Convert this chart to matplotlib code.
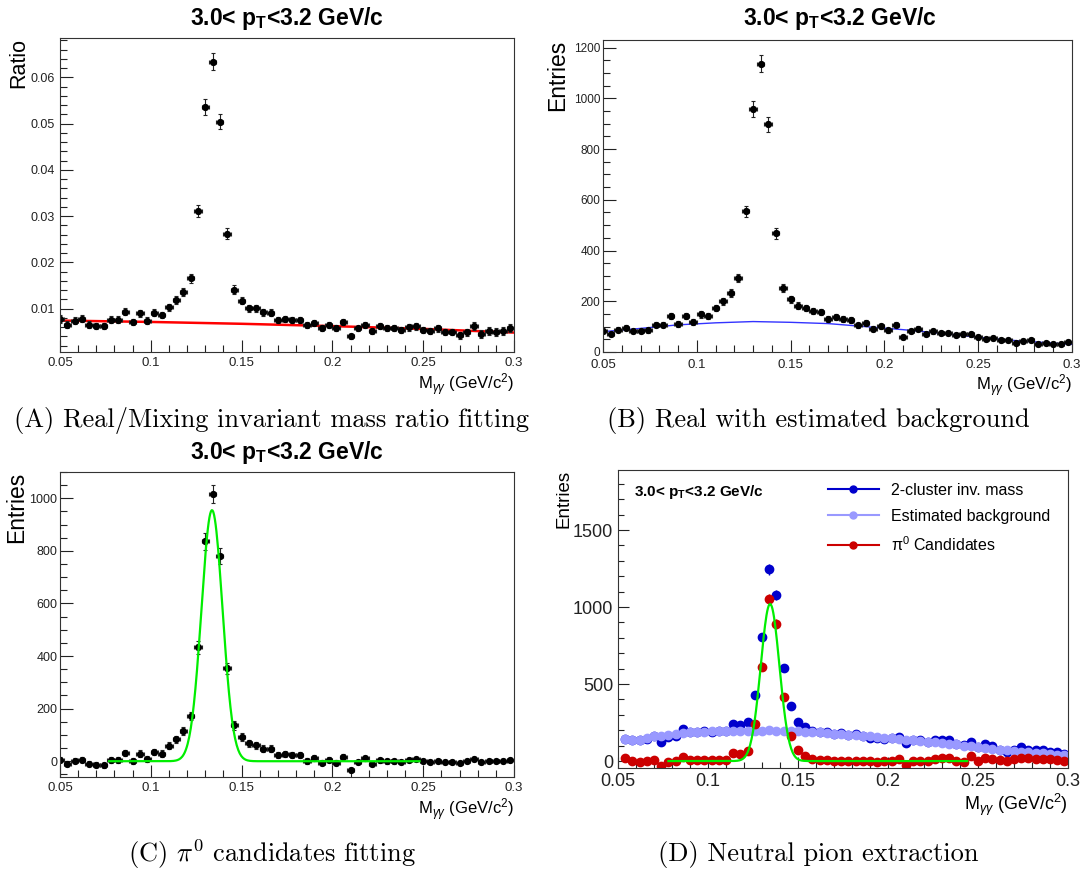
import numpy as np
import matplotlib
matplotlib.use("Agg")
import matplotlib.pyplot as plt
from matplotlib.lines import Line2D
from matplotlib.ticker import MultipleLocator, FuncFormatter

plt.rcParams['font.family'] = ['Liberation Sans', 'DejaVu Sans']
plt.rcParams['mathtext.fontset'] = 'custom'
plt.rcParams['mathtext.rm'] = 'Liberation Sans'
plt.rcParams['mathtext.it'] = 'Liberation Sans:italic'
plt.rcParams['mathtext.bf'] = 'Liberation Sans:bold'

# invariant mass bin centres (GeV/c^2)
mass = [0.050, 0.054, 0.058, 0.062, 0.066, 0.070, 0.074, 0.078, 0.082, 0.086,
        0.090, 0.094, 0.098, 0.102, 0.106, 0.110, 0.114, 0.118, 0.122, 0.126,
        0.130, 0.134, 0.138, 0.142, 0.146, 0.150, 0.154, 0.158, 0.162, 0.166,
        0.170, 0.174, 0.178, 0.182, 0.186, 0.190, 0.194, 0.198, 0.202, 0.206,
        0.210, 0.214, 0.218, 0.222, 0.226, 0.230, 0.234, 0.238, 0.242, 0.246,
        0.250, 0.254, 0.258, 0.262, 0.266, 0.270, 0.274, 0.278, 0.282, 0.286,
        0.290, 0.294, 0.298]
half_bin = 0.002

# (a) real / mixing ratio
ratio = [0.0078, 0.0065, 0.0074, 0.0078, 0.0065, 0.0062, 0.0062, 0.0076, 0.0076, 0.0093,
         0.0071, 0.0090, 0.0074, 0.0091, 0.0086, 0.0103, 0.0119, 0.0136, 0.0165, 0.0311,
         0.0535, 0.0634, 0.0504, 0.0262, 0.0141, 0.0117, 0.0101, 0.0101, 0.0092, 0.0091,
         0.0076, 0.0078, 0.0076, 0.0076, 0.0064, 0.0069, 0.0058, 0.0064, 0.0058, 0.0071,
         0.0040, 0.0057, 0.0065, 0.0051, 0.0062, 0.0058, 0.0057, 0.0054, 0.0059, 0.0062,
         0.0054, 0.0051, 0.0057, 0.0049, 0.0049, 0.0042, 0.0049, 0.0062, 0.0045, 0.0051,
         0.0049, 0.0051, 0.0058]
ratio_fit_x = [0.05, 0.10, 0.15, 0.20, 0.25, 0.30]
ratio_fit_y = [0.0074, 0.0071, 0.0067, 0.0062, 0.0056, 0.0048]

# (b) real pairs with estimated background
real = [82, 72, 88, 95, 82, 82, 85, 108, 108, 140,
        111, 142, 118, 148, 142, 174, 200, 233, 292, 554,
        957, 1137, 898, 469, 252, 207, 182, 174, 161, 157,
        131, 137, 129, 127, 105, 114, 92, 101, 85, 108,
        59, 82, 92, 72, 81, 76, 75, 68, 69, 69,
        61, 52, 56, 48, 46, 35, 43, 48, 33, 35,
        33, 33, 38]
bkg_x = [0.05, 0.07, 0.09, 0.11, 0.13, 0.15, 0.17, 0.19, 0.21, 0.23, 0.25, 0.27, 0.30]
bkg_y = [80, 93, 107, 115, 120, 117, 112, 100, 88, 74, 58, 45, 30]

# (c) pi0 candidates after subtraction
cand = [6, -9, 1, 6, -9, -13, -15, 4, 4, 32,
        1, 29, 8, 34, 29, 59, 83, 116, 172, 433,
        836, 1015, 780, 353, 136, 93, 68, 61, 48, 48,
        23, 29, 24, 24, 1, 13, -6, 6, -5, 17,
        -32, -3, 11, -9, 4, 0, 0, -3, 4, 8,
        1, -3, 1, -3, -3, -6, 0, 10, -4, 1,
        0, 1, 6]
fitC_amp, fitC_mean, fitC_sigma = 955, 0.1337, 0.0058
fitC_range = (0.077, 0.248)

# (d) neutral pion extraction (starts at second bin)
mass_d = mass[1:]
d_real = [144, 134, 134, 144, 162, 127, 155, 162, 209, 187,
          187, 198, 187, 198, 198, 241, 231, 252, 431, 806,
          1246, 1080, 603, 356, 252, 220, 198, 187, 187, 177,
          183, 170, 177, 166, 149, 149, 144, 149, 155, 119,
          134, 134, 127, 134, 134, 140, 112, 106, 123, 91,
          112, 101, 75, 62, 69, 91, 75, 75, 69, 62,
          58, 47]
d_bkg = [144, 134, 140, 149, 162, 166, 170, 175, 183, 187,
         187, 192, 194, 196, 196, 196, 196, 196, 198, 198,
         200, 198, 196, 194, 194, 192, 190, 187, 183, 179,
         177, 172, 170, 166, 162, 157, 153, 149, 144, 140,
         136, 131, 127, 123, 119, 114, 108, 101, 97, 91,
         86, 80, 75, 69, 65, 60, 58, 54, 50, 45,
         41, 41]
d_cand = [19, 0, -6, 0, 4, -32, -6, 0, 26, 9,
          9, 4, 9, 9, 4, 54, 47, 67, 241, 612,
          1050, 892, 414, 162, 69, 32, 11, 4, 9, -2,
          0, -2, -2, 0, 0, -6, -2, 0, 11, -24,
          0, 0, 0, 15, 19, 19, 0, -6, 32, -2,
          19, 15, 4, 0, 15, 19, 19, 15, 15, 15,
          4, 0]
fitD_amp, fitD_mean, fitD_sigma = 1020, 0.1345, 0.0052
fitD_range = (0.078, 0.244)

title = r'3.0< p$_{\mathbf{T}}$<3.2 GeV/c'
xlab = r'M$_{\gamma\gamma}$ (GeV/c$^{2}$)'


def gaus(x, amp, mean, sigma):
    return amp * np.exp(-0.5 * ((x - mean) / sigma) ** 2)


def root_axes(ax, ymajor, yminor, tsize=9.5):
    ax.set_xlim(0.05, 0.3)
    ax.xaxis.set_major_locator(MultipleLocator(0.05))
    ax.xaxis.set_minor_locator(MultipleLocator(0.01))
    ax.yaxis.set_major_locator(MultipleLocator(ymajor))
    ax.yaxis.set_minor_locator(MultipleLocator(yminor))
    fmt = FuncFormatter(lambda v, p: '{:g}'.format(round(v, 6)))
    ax.xaxis.set_major_formatter(fmt)
    ax.yaxis.set_major_formatter(fmt)
    ax.tick_params(which='both', direction='in', top=False, right=False,
                   labelsize=tsize, width=0.8, colors='#222222')
    ax.tick_params(which='major', length=9)
    ax.tick_params(which='minor', length=5)
    for s in ax.spines.values():
        s.set_linewidth(0.8)
        s.set_color('#333333')


fig = plt.figure(figsize=(10.88, 8.73), dpi=100)
W, H = 1088.0, 873.0


def add_ax(x0, x1, y0, y1):
    return fig.add_axes([x0 / W, 1 - y1 / H, (x1 - x0) / W, (y1 - y0) / H])


err_kw = dict(fmt='o', color='black', markersize=4.2, elinewidth=0.8,
              capsize=1.5, capthick=0.8, ecolor='#222222')

real_err = np.sqrt(np.array(real, dtype=float))

# ---- (a)
axA = add_ax(60, 514, 38, 352)
axA.errorbar(mass, ratio, xerr=half_bin, yerr=np.array(ratio) / real_err, **err_kw)
axA.plot(ratio_fit_x, ratio_fit_y, color='#ff0000', lw=1.8, zorder=1)
axA.set_ylim(0.0006, 0.0685)
root_axes(axA, 0.01, 0.002)
axA.tick_params(axis='y', labelsize=9)
axA.set_ylabel('Ratio', loc='top', fontsize=15.5)
axA.yaxis.set_label_coords(-0.068, 1.0)
axA.set_xlabel(xlab, loc='right', fontsize=12, labelpad=2)
fig.text(287 / W, 1 - 18 / H, title, ha='center', va='center',
         fontsize=16.5, fontweight='bold')

# ---- (b)
axB = add_ax(603, 1072, 40, 352)
axB.errorbar(mass, real, xerr=half_bin, yerr=real_err, **err_kw)
axB.plot(bkg_x, bkg_y, color='#3333ff', lw=1.0, zorder=1)
axB.set_ylim(0, 1230)
root_axes(axB, 200, 50)
axB.tick_params(axis='y', labelsize=8.5, pad=2)
axB.tick_params(axis='x', pad=5)
axB.set_ylabel('Entries', loc='top', fontsize=16.5)
axB.yaxis.set_label_coords(-0.072, 1.0)
axB.set_xlabel(xlab, loc='right', fontsize=12, labelpad=1)
fig.text(840 / W, 1 - 18 / H, title, ha='center', va='center',
         fontsize=16.5, fontweight='bold')

# ---- (c)
axC = add_ax(60, 514, 472, 777)
axC.errorbar(mass, cand, xerr=half_bin, yerr=real_err, **err_kw)
xc = np.linspace(fitC_range[0], fitC_range[1], 400)
axC.plot(xc, gaus(xc, fitC_amp, fitC_mean, fitC_sigma), color='#00ee00', lw=1.6, zorder=3)
axC.set_ylim(-60, 1100)
root_axes(axC, 200, 50)
axC.tick_params(axis='y', labelsize=9, pad=2)
axC.set_ylabel('Entries', loc='top', fontsize=16.5)
axC.yaxis.set_label_coords(-0.07, 1.0)
axC.set_xlabel(xlab, loc='right', fontsize=12, labelpad=2)
fig.text(287 / W, 1 - 452 / H, title, ha='center', va='center',
         fontsize=16.5, fontweight='bold')

# ---- (d)
axD = add_ax(618, 1068, 470, 768)
dk = dict(fmt='o', markersize=6, elinewidth=1.0, capsize=0)
d_err = np.sqrt(np.array(d_real, dtype=float))
axD.errorbar(mass_d, d_real, xerr=half_bin, yerr=d_err, color='#0000cc', **dk)
axD.errorbar(mass_d, d_bkg, xerr=half_bin, yerr=np.sqrt(np.array(d_bkg, dtype=float)) / 3,
             color='#9999ff', **dk)
axD.errorbar(mass_d, d_cand, xerr=half_bin, yerr=d_err, color='#cc0000', **dk)
xd = np.linspace(fitD_range[0], fitD_range[1], 400)
axD.plot(xd, gaus(xd, fitD_amp, fitD_mean, fitD_sigma), color='#00ee00', lw=1.6, zorder=4)
axD.set_ylim(-45, 1890)
root_axes(axD, 500, 100, tsize=13)
axD.tick_params(which='major', length=8)
axD.tick_params(which='minor', length=4)
axD.set_ylabel('Entries', loc='top', fontsize=13.5)
axD.yaxis.set_label_coords(-0.1, 1.0)
axD.set_xlabel(xlab, loc='right', fontsize=13, labelpad=1)
axD.text(0.035, 0.925, title, transform=axD.transAxes, fontsize=11,
         fontweight='bold', va='center')
handles = [Line2D([], [], color=c, marker='o', markersize=5, lw=1.5)
           for c in ['#0000cc', '#9999ff', '#cc0000']]
axD.legend(handles, ['2-cluster inv. mass', 'Estimated background',
                     'π$^{0}$ Candidates'],
           loc='upper right', bbox_to_anchor=(0.99, 1.0), frameon=False,
           fontsize=11.5, handlelength=3.2, labelspacing=0.7, borderaxespad=0.4)

# ---- captions
cap_kw = dict(ha='center', va='center', fontsize=19, fontfamily='cmr10',
              math_fontfamily='cm')
fig.text(272 / W, 1 - 420 / H, '(A) Real/Mixing invariant mass ratio fitting', **cap_kw)
fig.text(818 / W, 1 - 420 / H, '(B) Real with estimated background', **cap_kw)
fig.text(272 / W, 1 - 854 / H, r'(C) $\pi^0$ candidates fitting', **cap_kw)
fig.text(818 / W, 1 - 854 / H, '(D) Neutral pion extraction', **cap_kw)

fig.savefig('out.png', dpi=100)
